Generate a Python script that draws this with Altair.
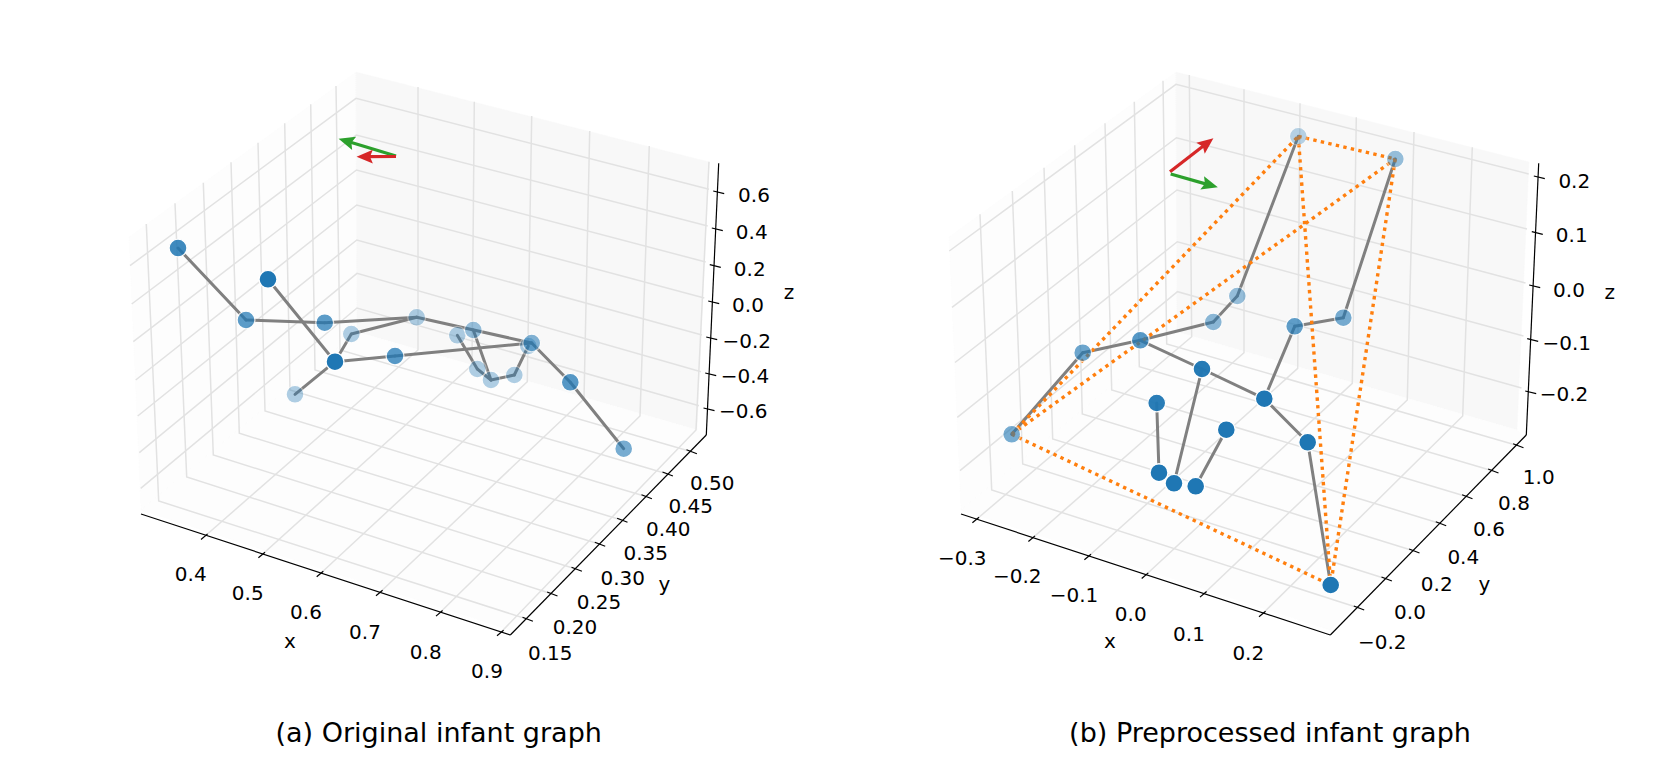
import math
import altair as alt
import pandas as pd

W, H = 1645, 745
BLUE, GRAY, ORANGE, GREEN, RED = "#1f77b4", "#808080", "#ff7f0e", "#2ca02c", "#d62728"

# ---------- readings from the picture (picture pixels are the data units) ----------
L_NODES = [(178,248,.85),(268,279.3,1),(246,320,.72),(324.7,322.7,.72),(416.7,317.3,.35),(351.3,334,.35),
           (335,361.7,1),(395,356,.75),(295,394.3,.35),(457.3,335.3,.35),(473.3,330,.45),(531.7,343,.55),
           (528.3,346,.35),(477.3,369,.35),(491,380,.35),(514.3,375,.35),(570.3,382.3,.75),(623.7,448.7,.6)]
L_EDGES = [(0,2),(2,3),(3,4),(4,5),(5,6),(6,1),(6,8),(6,7),(7,11),(4,11),(11,16),(16,17),(9,13),(13,14),(10,14),(14,15),(15,12)]
R_NODES = [(1082.7,352.7,.65),(1140.3,340.3,.75),(1213.3,322,.5),(1237.3,296,.45),(1298.3,136.3,.3),(1395.3,159,.45),
           (1343.3,317.7,.6),(1294.7,326.3,.7),(1011.7,434.3,.6),(1202,369,.97),(1264.3,398.7,1),(1156.7,403,.95),
           (1226.3,429.7,1),(1159,472.7,1),(1174,483.3,1),(1195.7,486.3,1),(1307.7,442.3,1),(1330.7,585,1)]
R_EDGES = [(8,0),(0,1),(1,2),(2,3),(3,4),(1,9),(9,10),(10,7),(7,6),(6,5),(9,14),(11,13),(12,15),(10,16),(16,17)]
R_DOTTED = [(8,4),(8,5),(4,5),(4,17),(5,17),(8,17)]

ARROWS = [(396,156,338.7,138.7,GREEN),(396,156.5,356.7,156.7,RED),
          (1170,171.7,1213.3,138.3,RED),(1170.7,174,1217.7,187.3,GREEN)]

PANES_L = [("#fdfdfd",[(129,237),(356,72),(357,332),(141,510)]),
           ("#f8f8f8",[(356,72),(709,162),(697,430),(357,332)]),
           ("#fdfdfd",[(141,510),(357,332),(697,430),(704,436),(510,630)])]

# tick on axis -> foot at back of floor -> top of back pane
L_XGRID = [((204.3,536.7),(418,350),(418,87)),((261.7,555),(472,365),(474.3,101.7)),((320,574),(527.3,381.7),(531.7,116)),
           ((379.3,593),(584,399),(589.7,131)),((439.3,613.3),(640,416),(649.3,146)),((500.3,633),(696,430),(709,161.7))]
L_YGRID = [((527.7,619.3),(158.7,501),(146.3,224)),((552.3,594),(186.7,477),(175,203.3)),((576.7,569.3),(213.3,455),(203.3,182.7)),
           ((600,544.3),(239.3,433.3),(231,162.3)),((622.3,520.3),(265,411),(258,142.7)),((646.7,496.7),(290,390),(284.7,123.3)),
           ((667.7,474),(315,370),(310.7,104.3)),((691.7,451.7),(340,350),(336,86))]
L_ZGRID = [((130,265.7),(356,98.3),(709,189.3)),((131.7,304),(356.3,135),(707.7,226)),((133.3,341.7),(356.5,170),(705.7,262)),
           ((135.7,380),(356.7,205),(704.3,298)),((137.7,416),(356.8,240),(702,335)),((139.3,452.7),(357,273.3),(701,371.7)),
           ((140.7,488.3),(357,308),(699,405.7))]
R_XGRID = [((975.7,520),(1191.7,336.7),(1189.3,75)),((1031.7,538.7),(1244,352.7),(1244,89.3)),((1087.7,557),(1297.7,368.3),(1300,103.3)),
           ((1145,575.7),(1352.3,383.3),(1356.3,117.3)),((1203.3,594.3),(1407.3,400),(1414,132)),((1262.3,614),(1462.7,416),(1472.3,147.3))]
R_YGRID = [((1359,608),(991.7,490),(980,214.3)),((1386.7,579),(1022.7,464),(1012.3,191)),((1414.3,551),(1052.7,439),(1044,167.7)),
           ((1441,523.7),(1082.3,414),(1074.7,145.3)),((1467.3,496.7),(1111.7,390),(1105,123.3)),((1493.3,471),(1139.3,366.7),(1134.3,101.7)),
           ((1518.3,445.7),(1166.7,344),(1163,80.7))]
R_ZGRID = [((949.3,251),(1176,84.3),(1528.7,174)),((952,307.3),(1176.5,137.7),(1527,229)),((955,362.5),(1177,190),(1525.5,283)),
           ((957.3,417.3),(1177.3,241.7),(1523.5,336)),((960,470.7),(1177.5,291.7),(1521.5,388))]

AXES = [((141,514),(510.3,635)),((510.3,635),(706.3,435)),((706.3,435),(718.7,163.3)),
        ((961,514),(1330.3,635)),((1330.3,635),(1526.3,435)),((1526.3,435),(1538.7,163.3))]

L_ZTICKS = [(718.7,192.3),(717.3,229.3),(715.3,266),(713.7,302.3),(711.7,338.3),(710.7,374.3),(709,409.3)]
R_ZTICKS = [(1539.3,177.3),(1537.3,233),(1534.7,286.3),(1532.7,340),(1530.7,392.3)]

LABELS = [("0.6",754,195),("0.4",751.7,232),("0.2",749.7,269),("0.0",748,305.3),("−0.2",746.7,341),("−0.4",745,376),("−0.6",743.3,411),
          ("0.4",190.7,574),("0.5",247.7,593),("0.6",306,612.3),("0.7",365,632),("0.8",425.7,651.7),("0.9",487,671.4),
          ("0.50",712.3,483.3),("0.45",690.7,506),("0.40",668.3,529.3),("0.35",645.7,553.3),("0.30",622.7,577.7),("0.25",599,602),("0.20",575,627.3),("0.15",550.3,653.3),
          ("x",290,641),("y",664.3,584.3),("z",789,291.7),
          ("0.2",1574.3,180.7),("0.1",1571.7,235.3),("0.0",1569,289.7),("−0.1",1566.7,343.3),("−0.2",1564,394.3),
          ("−0.3",962.3,558.3),("−0.2",1017.3,576),("−0.1",1074,595),("0.0",1130.7,614.3),("0.1",1189,633.7),("0.2",1248.3,653.3),
          ("1.0",1538.7,477.3),("0.8",1514,503),("0.6",1489,529.3),("0.4",1463.3,556.7),("0.2",1436.7,584),("0.0",1410,612.3),("−0.2",1382.3,641.7),
          ("x",1110,641),("y",1484.3,584.3),("z",1609.7,291.7)]
CAPTIONS = [("(a) Original infant graph",438.7,733),("(b) Preprocessed infant graph",1270,733)]

# ---------- tables ----------
X = alt.X("x:Q", scale=alt.Scale(domain=[8, 8 + W], range=[0, W]), axis=None)
Y = alt.Y("y:Q", scale=alt.Scale(domain=[8 + H, 8], range=[H, 0]), axis=None)
X2, Y2 = alt.X2("x2:Q"), alt.Y2("y2:Q")


def segs(pairs):
    return pd.DataFrame([dict(x=a[0], y=a[1], x2=b[0], y2=b[1]) for a, b in pairs])


def edges(nodes, links):
    return [((nodes[a][0], nodes[a][1]), (nodes[b][0], nodes[b][1])) for a, b in links]


def polyframe(lines):
    return pd.DataFrame([dict(id=n, i=i, x=p[0], y=p[1]) for n, line in enumerate(lines) for i, p in enumerate(line)])


layers = []
for colour, pts in PANES_L:
    for dx in (0, 820):
        df = pd.DataFrame([dict(i=i, x=p[0] + dx, y=p[1]) for i, p in enumerate(pts + pts[:1])])
        layers.append(alt.Chart(df).mark_line(fill=colour, stroke=colour, strokeWidth=0.5, clip=False)
                      .encode(x=X, y=Y, order="i:Q"))

grid = polyframe(L_XGRID + L_YGRID + L_ZGRID + R_XGRID + R_YGRID + R_ZGRID)
layers.append(alt.Chart(grid).mark_line(color="#e2e2e2", strokeWidth=1.5, strokeJoin="miter")
              .encode(x=X, y=Y, detail="id:N", order="i:Q"))

layers.append(alt.Chart(segs(AXES)).mark_rule(color="black", strokeWidth=1.2).encode(x=X, y=Y, x2=X2, y2=Y2))

ticks = []
for line in L_XGRID + R_XGRID:
    (a, b) = line[0]
    ticks.append(((a - 3.3, b + 2.8), (a + 3.3, b - 2.8)))
for line in L_YGRID + R_YGRID:
    (a, b) = line[0]
    ticks.append(((a - 5.2, b - 2), (a + 5.2, b + 2)))
for a, b in L_ZTICKS + R_ZTICKS:
    ticks.append(((a - 5.5, b - 1.3), (a + 5.5, b + 1.3)))
layers.append(alt.Chart(segs(ticks)).mark_rule(color="black", strokeWidth=1.2).encode(x=X, y=Y, x2=X2, y2=Y2))

layers.append(alt.Chart(pd.DataFrame(LABELS, columns=["t", "x", "y"]))
              .mark_text(font="DejaVu Sans", fontSize=20, color="black", align="center", baseline="middle", dy=1)
              .encode(x=X, y=Y, text="t:N"))
layers.append(alt.Chart(pd.DataFrame(CAPTIONS, columns=["t", "x", "y"]))
              .mark_text(font="DejaVu Sans", fontSize=27, color="black", align="center", baseline="middle", dy=1)
              .encode(x=X, y=Y, text="t:N"))

layers.append(alt.Chart(segs(edges(L_NODES, L_EDGES) + edges(R_NODES, R_EDGES)))
              .mark_rule(color=GRAY, strokeWidth=3, strokeCap="round").encode(x=X, y=Y, x2=X2, y2=Y2))
layers.append(alt.Chart(segs(edges(R_NODES, R_DOTTED)))
              .mark_rule(color=ORANGE, strokeWidth=3.4, strokeDash=[3.4, 4.3]).encode(x=X, y=Y, x2=X2, y2=Y2))

shafts, heads = [], []
for x0, y0, x1, y1, colour in ARROWS:
    L = math.hypot(x1 - x0, y1 - y0)
    ux, uy = (x1 - x0) / L, (y1 - y0) / L
    shafts.append(dict(x=x0, y=y0, x2=x1 - 9 * ux, y2=y1 - 9 * uy, c=colour))
    heads.append(dict(x=x1 - 8 * ux, y=y1 - 8 * uy, a=math.degrees(math.atan2(ux, -uy)) % 360, c=colour))
COL = alt.Color("c:N", scale=None)
layers.append(alt.Chart(pd.DataFrame(shafts)).mark_rule(strokeWidth=3.2).encode(x=X, y=Y, x2=X2, y2=Y2, color=COL))
layers.append(alt.Chart(pd.DataFrame(heads))
              .mark_point(shape="M0,-1 L0.85,1 L0,0.65 L-0.85,1 Z", filled=True, size=265, opacity=1, strokeWidth=0)
              .encode(x=X, y=Y, color=COL, angle=alt.Angle("a:Q", scale=None)))

nodes = pd.DataFrame(L_NODES + R_NODES, columns=["x", "y", "a"]).sort_values("a").reset_index(drop=True)
nodes["o"] = nodes.index
layers.append(alt.Chart(nodes)
              .mark_circle(color=BLUE, size=320, stroke="white", strokeWidth=1.3)
              .encode(x=X, y=Y, opacity=alt.Opacity("a:Q", scale=None), order="o:Q"))

chart = (alt.layer(*layers)
         .properties(width=W, height=H, padding=0, autosize=alt.AutoSizeParams(type="none"), background="white")
         .configure_view(stroke=None))
chart.save("out.html", embed_options={"renderer": "svg", "actions": False})
